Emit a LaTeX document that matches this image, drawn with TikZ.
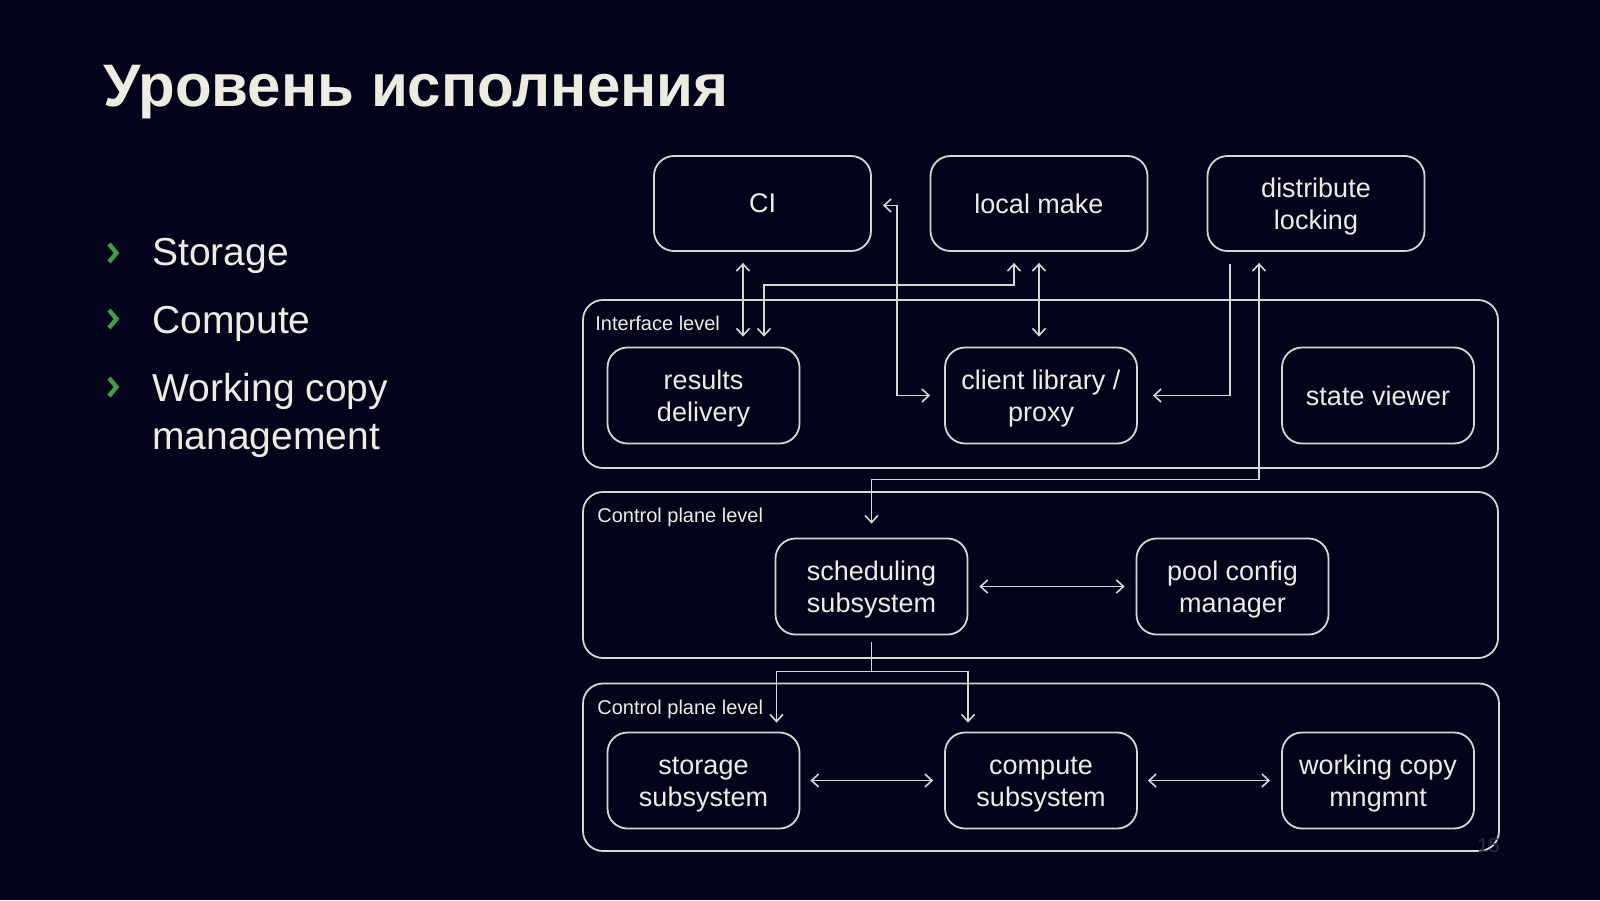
\documentclass[tikz,border=0pt]{standalone}
\usepackage{fontspec}
\setmainfont{Liberation Sans}
\usetikzlibrary{arrows.meta,calc}

\definecolor{bgc}{RGB}{3,3,27}
\definecolor{txt}{RGB}{238,236,224}
\definecolor{linec}{RGB}{215,215,210}
\definecolor{chevgreen}{RGB}{62,160,70}
\definecolor{pgnum}{RGB}{45,45,75}

\newcommand{\lift}{\rule{0pt}{12.9pt}}

\tikzset{
  barb/.tip={Straight Barb[length=3.5pt,width=6.5pt]},
  box/.style={draw=linec, line width=0.9pt, rounded corners=10pt, text=txt, align=center,
    font=\fontsize{13.5}{16}\selectfont, minimum width=96pt, minimum height=48pt, inner sep=0pt},
  topbox/.style={box, minimum width=108.5pt, minimum height=47.5pt},
  frame/.style={draw=linec, line width=0.9pt, rounded corners=10pt},
  lvl/.style={anchor=base west, inner sep=0pt, text=txt, font=\fontsize{10}{12}\selectfont},
  item/.style={anchor=base west, inner sep=0pt, text=txt, align=left, font=\fontsize{19.5}{24}\selectfont},
  chev/.style={draw=chevgreen, line width=2.2pt, miter limit=4},
  link/.style={draw=linec, line width=0.8pt},
  both/.style={link, barb-barb},
  one/.style={link, -barb}
}

\begin{document}
\begin{tikzpicture}[x=0.5pt, y=-0.5pt]
    \useasboundingbox (0,0) rectangle (1600,900);
    \fill[bgc] (0,0) rectangle (1600,900);

    \node[anchor=base west, inner sep=0pt, text=txt, font=\bfseries\fontsize{30}{36}\selectfont] (title) at (103,106.5) {Уровень исполнения};

    \foreach \b/\l/\t [count=\i] in {265/265/Storage, 331/333/Compute, 399/449/{Working copy\\management}} {
        \draw[chev] (109,\b-21) -- (116.5,\b-12) -- (109,\b-3);
        \node[item] (item\i) at (152,\l) {\t};
    }

    \draw[frame] (583,300) rectangle (1498,468);
    \draw[frame] (583,492) rectangle (1498,658);
    \draw[frame] (583,683.5) rectangle (1499,851);
    \node[lvl] (iflevel) at (595,330) {Interface level};
    \node[lvl] (cplevel) at (597,522) {Control plane level};
    \node[lvl] (cplevel2) at (597,714) {Control plane level};

    \node[topbox] (ci) at (762.5,203.5) {CI};
    \node[topbox] (localmake) at (1039,203.5) {local make};
    \node[topbox] (distlock) at (1316,203.5) {\lift distribute\\locking};
    \node[box] (results) at (703.5,395.5) {\lift results\\delivery};
    \node[box] (client) at (1041,395.5) {\lift client library /\\proxy};
    \node[box] (viewer) at (1378,395.5) {state viewer};
    \node[box] (sched) at (871.5,586.5) {\lift scheduling\\subsystem};
    \node[box] (pool) at (1232.5,586.5) {\lift pool config\\manager};
    \node[box] (storage) at (703.5,780.5) {\lift storage\\subsystem};
    \node[box] (compute) at (1041,780.5) {\lift compute\\subsystem};
    \node[box] (wcopy) at (1378,780.5) {\lift working copy\\mngmnt};

    \draw[both] ($(ci.south)+(-19.5,11)$) -- ($(ci.south |- results.north)+(-19.5,-10)$);
    \draw[both] ($(localmake.south)+(-25,11)$) -- ++(0,22) -| ($(results.north)+(60.5,-10)$);
    \draw[both] ($(localmake.south)+(0,11)$) -- ($(localmake.south |- client.north)+(0,-10)$);
    \draw[both] ($(ci.east)+(11,2)$) -- ++(14,0) |- ($(client.west)+(-14,0)$);
    \draw[one] ($(distlock.south)+(-86,12)$) |- ($(client.east)+(15,0)$);
    \draw[both] ($(distlock.south)+(-57,11)$) |- ($(sched.north)+(0,-58)$) -- ($(sched.north)+(0,-14)$);
    \draw[both] ($(sched.east)+(11,0)$) -- ($(pool.west)+(-11,0)$);
    \draw[link] ($(sched.south)+(0,7)$) -- ++(0,29) coordinate (fork);
    \draw[one] (fork) -| ($(storage.north)+(73,-9)$);
    \draw[one] (fork) -| ($(compute.north)+(-73,-9)$);
    \draw[both] ($(storage.east)+(10,0)$) -- ($(compute.west)+(-11,0)$);
    \draw[both] ($(compute.east)+(10,0)$) -- ($(wcopy.west)+(-11,0)$);

    \node[anchor=base west, inner sep=0pt, text=pgnum, font=\fontsize{10}{12}\selectfont] (pgno) at (1477,852) {15};
\end{tikzpicture}
\end{document}
